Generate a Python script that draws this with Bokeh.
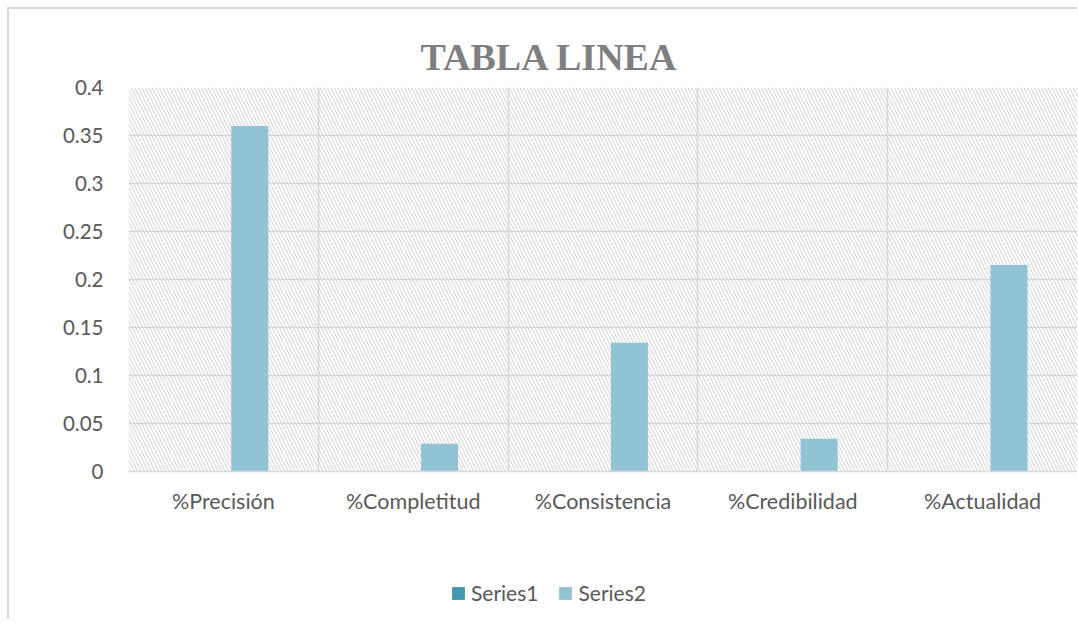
from bokeh.plotting import figure
from bokeh.layouts import column
from bokeh.models import (ColumnDataSource, FixedTicker, BoxAnnotation, Legend, LegendItem, Range1d)
from bokeh.transform import dodge
from bokeh.embed import file_html
from bokeh.resources import INLINE

# ---- data ----
categories = ["%Precisión", "%Completitud", "%Consistencia", "%Credibilidad", "%Actualidad"]
series_names = ["Series1", "Series2"]
series1 = [0, 0, 0, 0, 0]
series2 = [0.36, 0.029, 0.134, 0.034, 0.215]
series_colors = ["#4198af", "#92c3d4"]
y_ticks = [0, 0.05, 0.1, 0.15, 0.2, 0.25, 0.3, 0.35, 0.4]
y_labels = ["0", "0.05", "0.1", "0.15", "0.2", "0.25", "0.3", "0.35", "0.4"]
title_text = "TABLA LINEA"

centers = [i + 0.5 for i in range(len(categories))]
src = ColumnDataSource(dict(x=centers, s1=series1, s2=series2))

FONT = "Lato"
TXT = "#595959"
GRID = "#d9d9d9"

p = figure(width=1068, height=510, output_backend="svg", toolbar_location=None,
           x_range=Range1d(0, len(categories)), y_range=Range1d(0, 0.4),
           min_border_left=119, min_border_right=0, min_border_top=78, min_border_bottom=48)

p.title.text = title_text
p.title.text_font = "Liberation Serif"
p.title.text_font_style = "bold"
p.title.text_font_size = "38px"
p.title.text_color = "#7f7f7f"
p.title.align = "left"
p.title.offset = 292
p.title.standoff = 19

bg = BoxAnnotation(fill_alpha=0, line_alpha=0, hatch_pattern="\\", hatch_color="#d0d0d0",
                   hatch_scale=7, hatch_weight=1, level="underlay")
p.add_layout(bg)

p.vbar(x=dodge("x", -0.055, range=p.x_range), top="s1", width=0.195, source=src,
       fill_color=series_colors[0], line_color=None)
p.vbar(x=dodge("x", 0.139, range=p.x_range), top="s2", width=0.195, source=src,
       fill_color=series_colors[1], line_color=None)

# grids
p.xgrid.ticker = FixedTicker(ticks=list(range(len(categories) + 1)))
p.xgrid.grid_line_color = GRID
p.xgrid.grid_line_width = 1.5
p.ygrid.ticker = FixedTicker(ticks=y_ticks)
p.ygrid.grid_line_color = GRID
p.ygrid.grid_line_width = 1.5

# x axis
p.xaxis.ticker = FixedTicker(ticks=centers)
p.xaxis.major_label_overrides = {c: lab for c, lab in zip(centers, categories)}
p.xaxis.axis_line_color = GRID
p.xaxis.axis_line_width = 1.5
p.xaxis.major_tick_line_color = None
p.xaxis.minor_tick_line_color = None
p.xaxis.major_label_text_font = FONT
p.xaxis.major_label_text_font_size = "21.5px"
p.xaxis.major_label_text_color = TXT
p.xaxis.major_label_standoff = 10

# y axis
p.yaxis.ticker = FixedTicker(ticks=y_ticks)
p.yaxis.major_label_overrides = {t: lab for t, lab in zip(y_ticks, y_labels)}
p.yaxis.axis_line_color = None
p.yaxis.major_tick_line_color = None
p.yaxis.minor_tick_line_color = None
p.yaxis.major_label_text_font = FONT
p.yaxis.major_label_text_font_size = "20.5px"
p.yaxis.major_label_text_color = TXT
p.yaxis.major_label_standoff = 19

p.outline_line_color = None

# ---- legend strip (own small figure; its bars fall outside its y range) ----
lg = figure(width=1068, height=100, output_backend="svg", toolbar_location=None,
            x_range=Range1d(0, len(categories)), y_range=Range1d(1, 2),
            min_border_left=0, min_border_right=0, min_border_top=0, min_border_bottom=0)
lg.axis.visible = False
lg.grid.visible = False
lg.outline_line_color = None
items = []
for name, colname, col in zip(series_names, ["s1", "s2"], series_colors):
    r = lg.vbar(x="x", top=colname, width=0.195, source=src, fill_color=col, line_color=None)
    items.append(LegendItem(label=name, renderers=[r]))
legend = Legend(items=items, orientation="horizontal", location=(322, 14),
                label_text_font=FONT, label_text_font_size="21px", label_text_color=TXT,
                glyph_width=16, glyph_height=16, label_standoff=5, spacing=19,
                padding=0, margin=0, border_line_color=None, background_fill_alpha=0)
lg.add_layout(legend, "center")

layout = column(p, lg)
layout.styles = {"margin-left": "7px", "margin-top": "7px",
                 "border-top": "2px solid #d9d9d9", "border-left": "2px solid #d9d9d9"}

open("out.html", "w").write(file_html(layout, INLINE))
